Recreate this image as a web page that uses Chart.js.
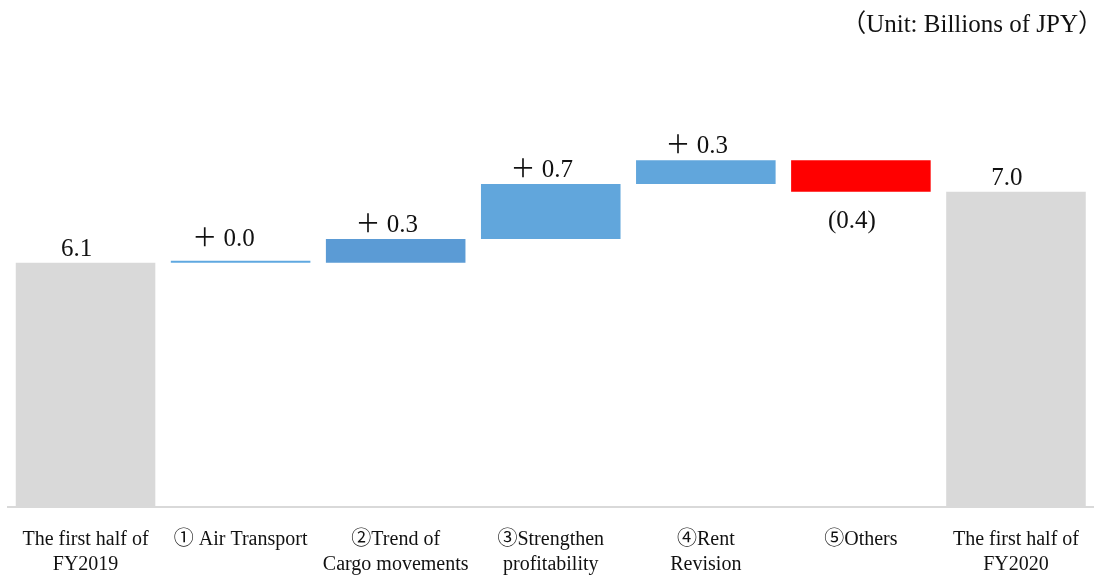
<!DOCTYPE html>
<html lang="en">
<head>
<meta charset="UTF-8">
<title>Waterfall FY2019 - FY2020</title>
<script src="https://cdn.jsdelivr.net/npm/chart.js"></script>
<style>
    body { margin: 0; background: #ffffff; overflow: hidden; }
    #wrap { width: 1099px; height: 597px; }
</style>
</head>
<body>
<div id="wrap"><canvas id="myChart"></canvas></div>
<script>
    // data
    var categories = [
        ['The first half of', 'FY2019'],
        '\u2460 Air Transport',
        ['\u2461Trend of', 'Cargo movements'],
        ['\u2462Strengthen', 'profitability'],
        ['\u2463Rent', 'Revision'],
        '\u2464Others',
        ['The first half of', 'FY2020']
    ];
    var startTotal = 6.1;
    var endTotal = 7.0;
    var changes = [0.0, 0.3, 0.7, 0.3, -0.4];
    var valueLabels = ['6.1', '\uFF0B 0.0', '\uFF0B 0.3', '\uFF0B 0.7', '\uFF0B 0.3', '(0.4)', '7.0'];
    var unitText = '\uFF08Unit: Billions of JPY\uFF09';

    var barColors = ['#d9d9d9', '#5fa8e0', '#5b9bd5', '#61a6dc', '#61a6dc', '#ff0000', '#d9d9d9'];

    // floating ranges for the waterfall
    var ranges = [startTotal];
    var running = startTotal;
    changes.forEach(function (c) {
        ranges.push([running, running + c]);
        running = running + c;
    });
    ranges.push(endTotal);

    var serif = "'Liberation Serif', 'Noto Sans CJK JP', serif";

    var valueLabelPlugin = {
        id: 'valueLabels',
        afterDatasetsDraw: function (chart) {
            var ctx = chart.ctx;
            var meta = chart.getDatasetMeta(0);
            ctx.save();
            ctx.font = '25px ' + serif;
            ctx.fillStyle = '#111111';
            ctx.textAlign = 'center';
            meta.data.forEach(function (bar, i) {
                var top = Math.min(bar.y, bar.base);
                var bottom = Math.max(bar.y, bar.base);
                var x = bar.x - 9;
                if (i > 0 && i < 6 && changes[i - 1] < 0) {
                    ctx.textBaseline = 'top';
                    ctx.fillText(valueLabels[i], x, bottom + 17);
                } else {
                    ctx.textBaseline = 'bottom';
                    var gap = (i === 1) ? 9 : 1;
                    ctx.fillText(valueLabels[i], (i === 1) ? x - 8 : x, top - gap);
                }
            });
            // unit note top right
            ctx.font = '25px ' + serif;
            ctx.textAlign = 'right';
            ctx.textBaseline = 'middle';
            ctx.fillText(unitText, 1103, 25);
            ctx.restore();
        }
    };

    var ctx = document.getElementById('myChart').getContext('2d');
    var myChart = new Chart(ctx, {
        type: 'bar',
        data: {
            labels: categories,
            datasets: [{
                data: ranges,
                backgroundColor: barColors,
                borderWidth: 0,
                minBarLength: 2,
                barPercentage: 0.9,
                categoryPercentage: 1.0
            }]
        },
        options: {
            responsive: true,
            maintainAspectRatio: false,
            animation: false,
            layout: { padding: { top: 113, left: 8, right: 0, bottom: 0 } },
            plugins: {
                legend: { display: false },
                tooltip: { enabled: false },
                title: { display: false }
            },
            scales: {
                x: {
                    grid: { display: false, drawTicks: false },
                    border: { display: true, color: '#d9d9d9', width: 2 },
                    ticks: {
                        color: '#111111',
                        padding: 20,
                        maxRotation: 0,
                        autoSkip: false,
                        font: { family: serif, size: 20, lineHeight: 1.25 }
                    }
                },
                y: {
                    display: false,
                    min: 3.0,
                    max: 8.0
                }
            }
        },
        plugins: [valueLabelPlugin]
    });
</script>
</body>
</html>
